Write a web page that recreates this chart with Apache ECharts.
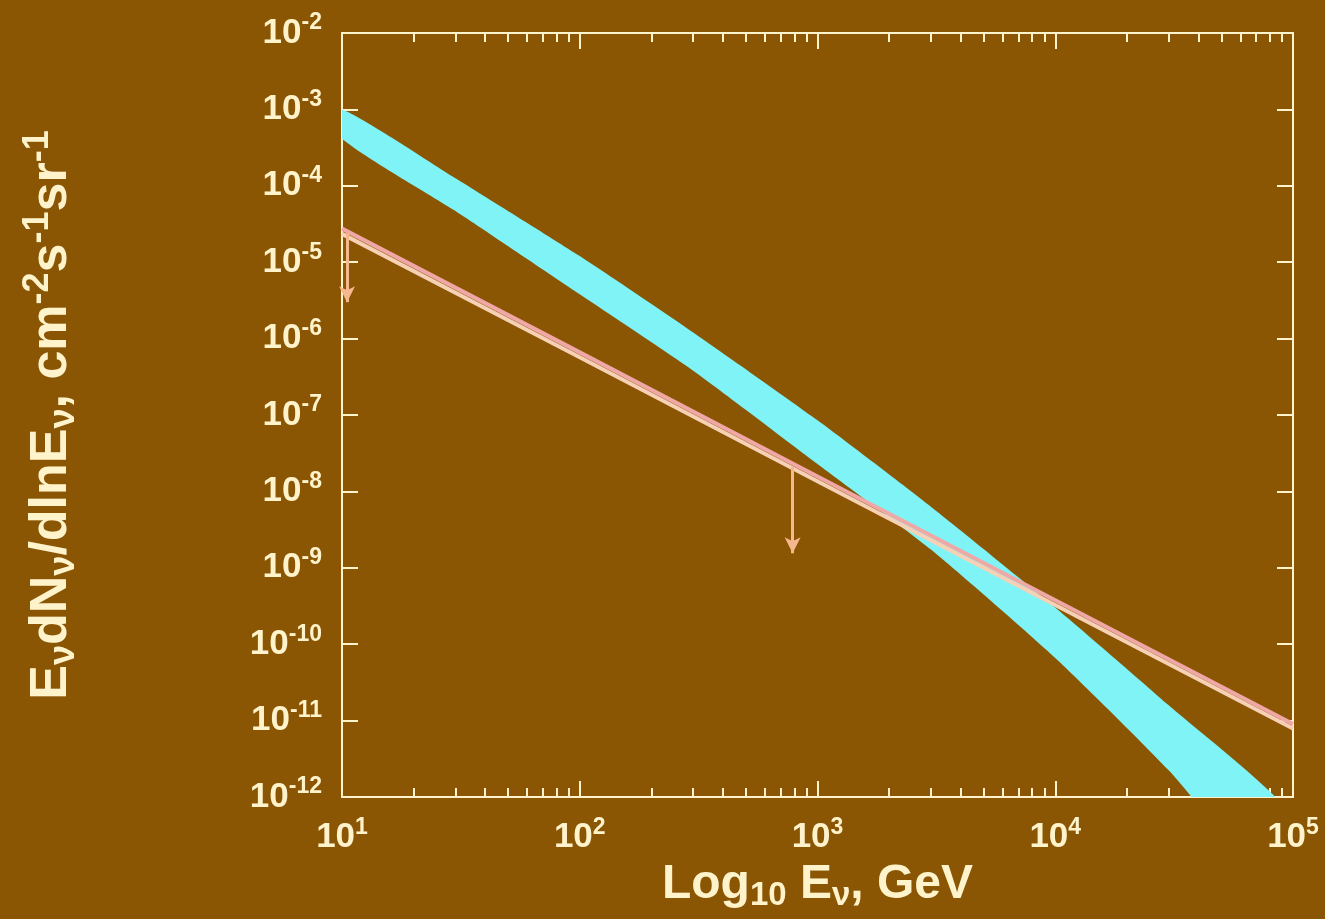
<!DOCTYPE html>
<html>
<head>
<meta charset="utf-8">
<script src="https://cdn.jsdelivr.net/npm/echarts@6/dist/echarts.min.js"></script>
<style>
  html, body { margin: 0; padding: 0; background: #8a5604; }
  #chart { width: 1325px; height: 919px; }
</style>
</head>
<body>
<div id="chart"></div>
<script>
// energy nodes (GeV) shared by both edges of the cyan band
const bandE = [10, 30, 100, 300, 1000, 3000, 10000, 30000, 100000];
// log10 of flux on the upper / lower edge of the band
const bandUpperLog = [-3.0, -3.9, -4.92, -5.92, -7.07, -8.2, -9.52, -10.8, -12.27];
const bandLowerLog = [-3.38, -4.33, -5.42, -6.42, -7.64, -8.76, -10.18, -11.65, -13.5];

// limit line (two close strokes)
const limitE = [10, 100, 1000, 10000, 100000];
const limitA = [2.75e-5, 6.6e-7, 1.57e-8, 3.75e-10, 9.0e-12];
const limitB = [2.35e-5, 5.7e-7, 1.36e-8, 3.25e-10, 7.9e-12];

// down arrows (upper limits)
const arrowE = [10.5, 786];
const arrowFrom = [2.4e-5, 2.1e-8];
const arrowTo = [3.0e-6, 1.55e-9];

// minor tick multipliers for the log x axis
const minorMult = [2, 3, 4, 5, 6, 7, 8, 9];
const decades = [1, 2, 3, 4];

const cream = '#fff3cc';
const font = 'Liberation Sans';
const minorTicks = [];
decades.forEach(d => minorMult.forEach(m => minorTicks.push(m * Math.pow(10, d))));

const expLabel = v => '{b|10}{s|' + Math.round(Math.log10(v)) + '}';
const tickRich = {
  b: { fontSize: 35, color: cream, fontFamily: font, fontWeight: 'bold' },
  s: { fontSize: 23, color: cream, fontFamily: font, fontWeight: 'bold', padding: [0, 0, 20, 0] }
};

const chart = echarts.init(document.getElementById('chart'));

const xBase = {
  type: 'log', logBase: 10, min: 10, max: 100000, splitNumber: 4,
  splitLine: { show: false }
};
const yBase = {
  type: 'log', logBase: 10, min: 1e-12, max: 1e-2, splitNumber: 10,
  splitLine: { show: false }
};

const option = {
  backgroundColor: '#8a5604',
  animation: false,
  grid: { left: 342, right: 32, top: 33, bottom: 122, containLabel: false, outerBoundsMode: 'none' },
  xAxis: [
    Object.assign({}, xBase, {
      position: 'bottom',
      axisLine: { lineStyle: { color: cream, width: 2 } },
      axisTick: { inside: true, length: 16, lineStyle: { color: cream, width: 2 } },
      axisLabel: { margin: 19, formatter: expLabel, rich: tickRich },
      name: '{t|Log}{sub|10}{t| E}{sub|ν}{t|, GeV}',
      nameLocation: 'middle', nameGap: 60,
      nameTextStyle: {
        rich: {
          t: { fontSize: 48, color: cream, fontFamily: font, fontWeight: 'bold' },
          sub: { fontSize: 33, color: cream, fontFamily: font, fontWeight: 'bold', padding: [22, 0, 0, 0] }
        }
      }
    }),
    Object.assign({}, xBase, {
      position: 'top',
      axisLine: { lineStyle: { color: cream, width: 2 } },
      axisTick: { inside: true, length: 16, lineStyle: { color: cream, width: 2 } },
      axisLabel: { show: false }
    }),
    Object.assign({}, xBase, {
      position: 'bottom',
      axisLine: { show: false },
      axisTick: { inside: true, length: 9, customValues: minorTicks, lineStyle: { color: cream, width: 2 } },
      axisLabel: { show: false }
    }),
    Object.assign({}, xBase, {
      position: 'top',
      axisLine: { show: false },
      axisTick: { inside: true, length: 9, customValues: minorTicks, lineStyle: { color: cream, width: 2 } },
      axisLabel: { show: false }
    })
  ],
  yAxis: [
    Object.assign({}, yBase, {
      position: 'left',
      axisLine: { lineStyle: { color: cream, width: 2 } },
      axisTick: { inside: true, length: 16, lineStyle: { color: cream, width: 2 } },
      axisLabel: { margin: 20, formatter: expLabel, rich: tickRich },
      name: '{t|E}{sub|ν}{t|dN}{sub|ν}{t|/dlnE}{sub|ν}{t|, cm}{sup|-2}{t|s}{sup|-1}{t|sr}{sup|-1}',
      nameLocation: 'middle', nameRotate: 90, nameGap: 258,
      nameTextStyle: {
        rich: {
          t: { fontSize: 52, color: cream, fontFamily: font, fontWeight: 'bold' },
          sub: { fontSize: 36, color: cream, fontFamily: font, fontWeight: 'bold', padding: [24, 0, 0, 0] },
          sup: { fontSize: 36, color: cream, fontFamily: font, fontWeight: 'bold', padding: [0, 0, 28, 0] }
        }
      }
    }),
    Object.assign({}, yBase, {
      position: 'right',
      axisLine: { lineStyle: { color: cream, width: 2 } },
      axisTick: { inside: true, length: 16, lineStyle: { color: cream, width: 2 } },
      axisLabel: { show: false }
    })
  ],
  series: [
    {
      name: 'band',
      type: 'custom',
      xAxisIndex: 0, yAxisIndex: 0,
      clip: true,
      data: [0],
      renderItem: function (params, api) {
        const pts = [];
        bandE.forEach((e, i) => pts.push(api.coord([e, Math.pow(10, bandUpperLog[i])])));
        for (let i = bandE.length - 1; i >= 0; i--) {
          pts.push(api.coord([bandE[i], Math.pow(10, bandLowerLog[i])]));
        }
        return {
          type: 'polygon',
          shape: { points: pts, smooth: 0.2 },
          style: { fill: '#7ff3f6', stroke: null }
        };
      }
    },
    {
      name: 'limit B',
      type: 'line',
      xAxisIndex: 0, yAxisIndex: 0,
      data: limitE.map((e, i) => [e, limitB[i]]),
      showSymbol: false,
      lineStyle: { color: '#f7d1b6', width: 4 }
    },
    {
      name: 'limit A',
      type: 'line',
      xAxisIndex: 0, yAxisIndex: 0,
      data: limitE.map((e, i) => [e, limitA[i]]),
      showSymbol: false,
      lineStyle: { color: '#f0a8a6', width: 4 },
      markLine: {
        silent: true,
        symbol: ['none', 'arrow'],
        symbolSize: [12, 16],
        label: { show: false },
        lineStyle: { color: '#f6b88e', width: 3, type: 'solid' },
        data: arrowE.map((e, i) => [{ coord: [e, arrowFrom[i]] }, { coord: [e, arrowTo[i]] }])
      }
    }
  ]
};

chart.setOption(option);
</script>
</body>
</html>
